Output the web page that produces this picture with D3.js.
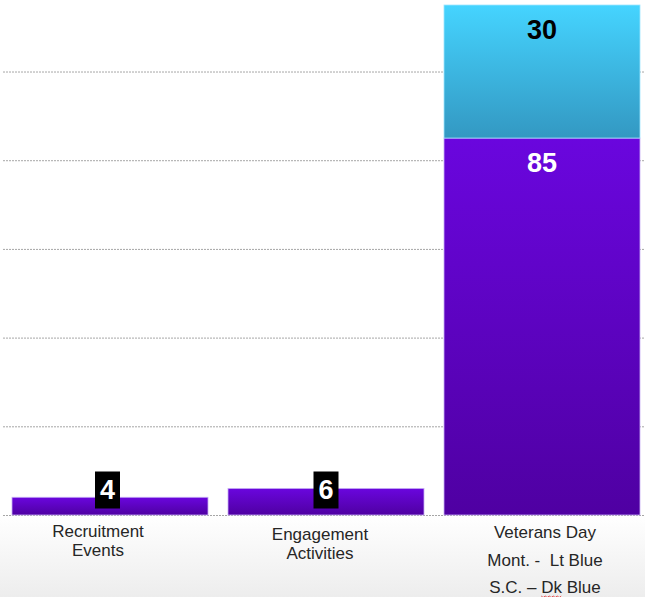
<!DOCTYPE html>
<html>
<head>
<meta charset="utf-8">
<script src="https://cdn.jsdelivr.net/npm/d3@7"></script>
<style>
  body { margin: 0; background: #fff; }
  text { font-family: "Liberation Sans", Arial, sans-serif; white-space: pre; }
</style>
</head>
<body>
<svg width="645" height="597"></svg>
<script>
// data
var categories = ["Recruitment Events", "Engagement Activities", "Veterans Day"];
var catLines = [["Recruitment", "Events"], ["Engagement", "Activities"], ["Veterans Day", "Mont. -  Lt Blue", "S.C. \u2013 Dk Blue"]];
var scValues = [4, 6, 85];     // dark blue (purple) part
var montValues = [0, 0, 30];   // light blue part
var gridTicks = [0, 20, 40, 60, 80, 100];

var svg = d3.select("svg"),
  width = +svg.attr("width"),
  height = +svg.attr("height");

var x = d3.scaleBand()
  .domain(categories)
  .range([2, 650])
  .paddingInner(20 / 216)
  .paddingOuter(10 / 216);

var y = d3.scaleLinear()
  .domain([0, 115])
  .range([515, 5]);

var defs = svg.append("defs");

function grad(id, top, bottom) {
  var g = defs.append("linearGradient")
    .attr("id", id)
    .attr("x1", 0).attr("y1", 0)
    .attr("x2", 0).attr("y2", 1);
  g.append("stop").attr("offset", "0%").attr("stop-color", top);
  g.append("stop").attr("offset", "100%").attr("stop-color", bottom);
}
grad("purple", "#6a06de", "#4f00a2");
grad("cyan", "#45d4ff", "#3398c2");
grad("floor", "#ffffff", "#ededed");

// floor shading under the axis
svg.append("rect")
  .attr("x", 0)
  .attr("y", y(0))
  .attr("width", width)
  .attr("height", height - y(0))
  .attr("fill", "url(#floor)");

// gridlines
svg.append("g")
  .selectAll("line")
  .data(gridTicks)
  .enter().append("line")
  .attr("x1", 3)
  .attr("x2", width)
  .attr("y1", function(d) { return y(d) + 0.5; })
  .attr("y2", function(d) { return y(d) + 0.5; })
  .attr("stroke", "#a6a6a6")
  .attr("stroke-width", 1)
  .attr("stroke-dasharray", "2,1");

// stacked bars
var stackData = categories.map(function(c, i) {
  return { cat: c, sc: scValues[i], mont: montValues[i] };
});

var bars = svg.append("g");

bars.selectAll("rect.sc")
  .data(stackData)
  .enter().append("rect")
  .attr("class", "sc")
  .attr("x", function(d) { return x(d.cat); })
  .attr("y", function(d) { return y(d.sc); })
  .attr("width", x.bandwidth())
  .attr("height", function(d) { return y(0) - y(d.sc); })
  .attr("fill", "url(#purple)")
  .attr("stroke", "#c7b0f4")
  .attr("stroke-width", 0.8);

bars.selectAll("rect.mont")
  .data(stackData.filter(function(d) { return d.mont > 0; }))
  .enter().append("rect")
  .attr("class", "mont")
  .attr("x", function(d) { return x(d.cat); })
  .attr("y", function(d) { return y(d.sc + d.mont); })
  .attr("width", x.bandwidth())
  .attr("height", function(d) { return y(d.sc) - y(d.sc + d.mont); })
  .attr("fill", "url(#cyan)")
  .attr("stroke", "#9fe6ff")
  .attr("stroke-width", 0.8);

// value labels inside the tall bar
var inside = stackData.filter(function(d) { return d.mont > 0; });

svg.append("g")
  .selectAll("text")
  .data(inside)
  .enter().append("text")
  .attr("x", function(d) { return x(d.cat) + x.bandwidth() / 2; })
  .attr("y", function(d) { return y(d.sc + d.mont) + 25; })
  .attr("text-anchor", "middle")
  .attr("dominant-baseline", "central")
  .attr("font-size", "27px")
  .attr("font-weight", "bold")
  .attr("fill", "#000")
  .text(function(d) { return d.mont; });

svg.append("g")
  .selectAll("text")
  .data(inside)
  .enter().append("text")
  .attr("x", function(d) { return x(d.cat) + x.bandwidth() / 2; })
  .attr("y", function(d) { return y(d.sc) + 25; })
  .attr("text-anchor", "middle")
  .attr("dominant-baseline", "central")
  .attr("font-size", "27px")
  .attr("font-weight", "bold")
  .attr("fill", "#fff")
  .text(function(d) { return d.sc; });

// boxed labels for the short bars
var small = stackData.filter(function(d) { return d.mont === 0; });

var boxes = svg.append("g")
  .selectAll("g")
  .data(small)
  .enter().append("g")
  .attr("transform", function(d, i) {
    return "translate(" + (x(d.cat) + x.bandwidth() / 2 - (i === 0 ? 2.5 : 0)) + "," + (y(0) - 25) + ")";
  });

boxes.append("rect")
  .attr("x", -12.5)
  .attr("y", -18.5)
  .attr("width", 25)
  .attr("height", 37)
  .attr("fill", "#000");

boxes.append("text")
  .attr("text-anchor", "middle")
  .attr("dominant-baseline", "central")
  .attr("font-size", "27px")
  .attr("font-weight", "bold")
  .attr("fill", "#fff")
  .text(function(d) { return d.sc; });

// category labels
var labelNudge = [-12, -6, 3];
var lineGap = [19, 19, 27.5];
var firstBase = [537, 540, 538];

var cats = svg.append("g")
  .selectAll("text")
  .data(categories)
  .enter().append("text")
  .attr("text-anchor", "middle")
  .attr("font-size", "17px")
  .attr("fill", "#262626");

cats.each(function(c, i) {
  var t = d3.select(this);
  catLines[i].forEach(function(line, j) {
    t.append("tspan")
      .attr("x", x(c) + x.bandwidth() / 2 + labelNudge[i])
      .attr("y", firstBase[i] + j * lineGap[i])
      .text(line);
  });
});

// spell-check squiggle under "Dk"
var lastLine = cats.filter(function(c, i) { return i === 2; }).select("tspan:last-child").node();
var s = lastLine.textContent;
var k = s.indexOf("Dk");
var x0 = lastLine.getStartPositionOfChar(k).x;
var x1 = lastLine.getEndPositionOfChar(k + 1).x;
var yb = firstBase[2] + 2 * lineGap[2] + 3;
var pts = [];
for (var px = x0, up = true; px <= x1; px += 2, up = !up) pts.push([px, yb + (up ? 0 : 1.5)]);
svg.append("path")
  .attr("d", d3.line()(pts))
  .attr("fill", "none")
  .attr("stroke", "#e03030")
  .attr("stroke-width", 0.8);
</script>
</body>
</html>
